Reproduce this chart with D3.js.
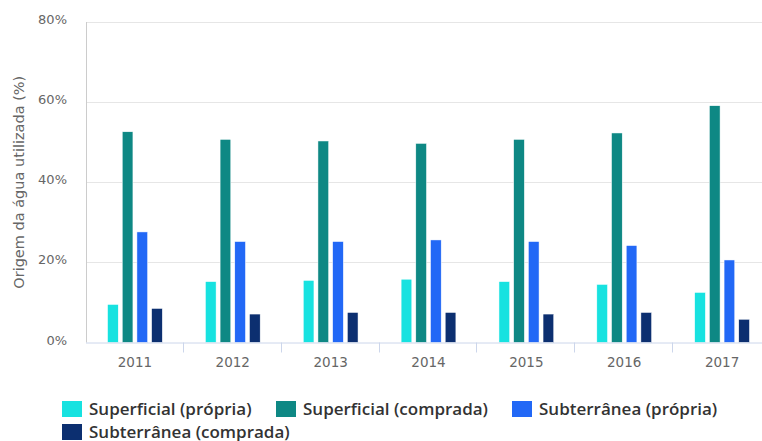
<!DOCTYPE html>
<html>
<head>
<meta charset="utf-8">
<script src="https://cdn.jsdelivr.net/npm/d3@7"></script>
<style>
  body { margin: 0; background: #fff; }
  svg { display: block; }
  .tick-lbl { font-family: "DejaVu Sans", sans-serif; font-size: 13px; fill: #666; }
  .legend-lbl { font-family: "Open Sans", sans-serif; font-size: 17px; font-weight: 600; fill: #333; }
</style>
</head>
<body>
<svg class="canvas"></svg>
<script>
var years = ["2011", "2012", "2013", "2014", "2015", "2016", "2017"];
var seriesNames = ["Superficial (própria)", "Superficial (comprada)", "Subterrânea (própria)", "Subterrânea (comprada)"];
var seriesColors = ["#17e2e0", "#0e8884", "#2268f6", "#0c2f70"];
var superficialPropria = [9.5, 15.2, 15.5, 15.8, 15.2, 14.5, 12.5];
var superficialComprada = [52.6, 50.7, 50.3, 49.7, 50.7, 52.3, 59.1];
var subterraneaPropria = [27.6, 25.2, 25.2, 25.6, 25.2, 24.2, 20.6];
var subterraneaComprada = [8.5, 7.1, 7.5, 7.5, 7.1, 7.5, 5.8];
var yTicks = [0, 20, 40, 60, 80];

var allSeries = [superficialPropria, superficialComprada, subterraneaPropria, subterraneaComprada];

var width = 762;
var height = 441;
var plotLeft = 86, plotRight = 771, plotTop = 22, plotBottom = 342.5;

var svg = d3.select(".canvas").attr("width", width).attr("height", height);

var y = d3.scaleLinear().domain([0, 80]).range([plotBottom, plotTop]);
var x = d3.scaleBand().domain(years).range([plotLeft, plotRight]).padding(0);
var xs = d3.scaleBand().domain(d3.range(4)).range([0, x.bandwidth()])
  .paddingInner(0.272).paddingOuter(1.466);

// grid lines
svg.append("g").selectAll("line")
  .data(yTicks.slice(1))
  .enter().append("line")
  .attr("x1", plotLeft).attr("x2", width)
  .attr("y1", function(d) { return Math.round(y(d)) + 0.5; })
  .attr("y2", function(d) { return Math.round(y(d)) + 0.5; })
  .attr("stroke", "#e6e6e6").attr("stroke-width", 1);

// y axis line
svg.append("line")
  .attr("x1", plotLeft + 0.5).attr("x2", plotLeft + 0.5)
  .attr("y1", plotTop).attr("y2", plotBottom)
  .attr("stroke", "#ccc").attr("stroke-width", 1);

// y labels
svg.append("g").selectAll("text")
  .data(yTicks)
  .enter().append("text")
  .attr("class", "tick-lbl")
  .attr("x", 67)
  .attr("y", function(d) { return y(d) + 2; })
  .attr("text-anchor", "end")
  .text(function(d) { return d + "%"; });

// y title
svg.append("text")
  .attr("class", "tick-lbl")
  .style("font-size", "14.5px")
  .attr("transform", "translate(24," + ((plotTop + plotBottom) / 2) + ") rotate(-90)")
  .attr("text-anchor", "middle")
  .text("Origem da água utilizada (%)");

// bars
var groups = svg.append("g").selectAll("g")
  .data(allSeries)
  .enter().append("g")
  .attr("fill", function(d, i) { return seriesColors[i]; });

groups.each(function(vals, si) {
  d3.select(this).selectAll("rect")
    .data(vals)
    .enter().append("rect")
    .attr("x", function(d, i) { return x(years[i]) + xs(si); })
    .attr("y", function(d) { return y(d); })
    .attr("width", xs.bandwidth())
    .attr("height", function(d) { return plotBottom - y(d); })
    .attr("stroke", "#fff").attr("stroke-width", 0.5);
});

// x axis
svg.append("line")
  .attr("x1", plotLeft).attr("x2", width)
  .attr("y1", plotBottom + 0.5).attr("y2", plotBottom + 0.5)
  .attr("stroke", "#ccd6eb");

svg.append("g").selectAll("line")
  .data(years.slice(1))
  .enter().append("line")
  .attr("x1", function(d) { return Math.round(x(d)) - 0.5; })
  .attr("x2", function(d) { return Math.round(x(d)) - 0.5; })
  .attr("y1", plotBottom).attr("y2", plotBottom + 10)
  .attr("stroke", "#ccd6eb");

svg.append("g").selectAll("text")
  .data(years)
  .enter().append("text")
  .attr("class", "tick-lbl")
  .style("font-size", "13.5px")
  .attr("x", function(d) { return x(d) + x.bandwidth() / 2; })
  .attr("y", 367)
  .attr("text-anchor", "middle")
  .text(function(d) { return d; });

// legend
var legendPos = [[62, 401], [276, 401], [512, 401], [62, 424]];
var legend = svg.append("g").selectAll("g")
  .data(seriesNames)
  .enter().append("g")
  .attr("transform", function(d, i) { return "translate(" + legendPos[i][0] + "," + legendPos[i][1] + ")"; });

legend.append("rect")
  .attr("width", 20).attr("height", 16)
  .attr("fill", function(d, i) { return seriesColors[i]; });

legend.append("text")
  .attr("class", "legend-lbl")
  .attr("x", 27).attr("y", 14)
  .text(function(d) { return d; });
</script>
</body>
</html>
